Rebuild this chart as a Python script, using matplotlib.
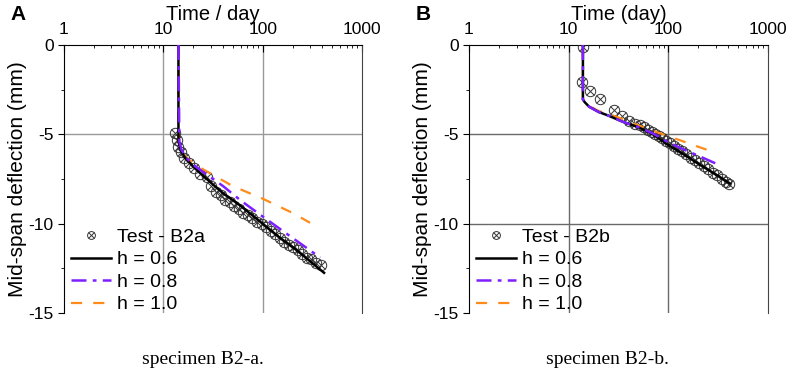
import numpy as np
import matplotlib
matplotlib.use("Agg")
import matplotlib.pyplot as plt
from matplotlib.ticker import FixedLocator, NullFormatter, LogLocator

plt.rcParams['font.family'] = ['Liberation Sans', 'DejaVu Sans']
plt.rcParams['axes.unicode_minus'] = False

# ---------------- panel A : specimen B2-a ----------------
a_test_t = [13.1, 13.6, 14.2, 15.0, 16.3, 18.0, 20.5, 23.5, 27.5, 30.5, 34, 38, 42, 47,
            52, 58, 64, 71, 79, 88, 98, 108, 120, 133, 148, 165, 183, 203, 225, 250,
            278, 310, 345, 390]
a_test_d = [-4.9, -5.3, -5.7, -6.0, -6.3, -6.6, -6.9, -7.2, -7.4, -7.9, -8.2, -8.4, -8.7, -8.8,
            -9.0, -9.2, -9.4, -9.5, -9.7, -9.9, -10.0, -10.2, -10.4, -10.6, -10.8, -11.0,
            -11.2, -11.3, -11.5, -11.7, -11.9, -12.0, -12.2, -12.3]
a_h06_t = [14.2, 14.2, 15, 16.5, 20, 25, 30, 40, 60, 100, 150, 200, 300, 415]
a_h06_d = [0, -5.4, -5.9, -6.3, -6.8, -7.3, -7.7, -8.3, -9.0, -10.0, -10.8, -11.3, -12.1, -12.75]
a_h08_t = [14.2, 14.5, 15.2, 17, 20, 25, 30, 40, 60, 100, 200, 380]
a_h08_d = [0, -5.4, -5.85, -6.3, -6.7, -7.1, -7.4, -7.9, -8.7, -9.6, -10.8, -11.9]
a_h10_t = [14.2, 14.2, 15, 17, 20, 25, 30, 50, 100, 200, 300]
a_h10_d = [0, -5.4, -5.9, -6.3, -6.6, -6.95, -7.2, -7.9, -8.6, -9.4, -9.95]

# ---------------- panel B : specimen B2-b ----------------
b_test_t = [13.9, 13.6, 16.4, 20.6, 28.4, 34, 40, 46, 52, 57, 62, 68, 74, 80, 87, 95,
            104, 114, 125, 138, 152, 168, 185, 205, 228, 252, 280, 310, 345, 380, 410]
b_test_d = [-0.1, -2.05, -2.6, -3.0, -3.65, -4.0, -4.25, -4.4, -4.5, -4.6, -4.75, -4.85,
            -5.0, -5.1, -5.2, -5.35, -5.5, -5.65, -5.8, -5.95, -6.1, -6.3, -6.45, -6.6,
            -6.8, -6.95, -7.15, -7.3, -7.5, -7.65, -7.8]
b_h06_t = [13.9, 13.9, 14.5, 16, 20, 25, 35, 50, 70, 100, 150, 200, 300, 415]
b_h06_d = [0, -3.05, -3.2, -3.45, -3.75, -3.95, -4.3, -4.6, -5.0, -5.6, -6.2, -6.65, -7.25, -7.75]
b_h08_t = [13.9, 13.9, 14.5, 16, 20, 25, 35, 50, 70, 100, 150, 200, 307]
b_h08_d = [0, -3.05, -3.2, -3.45, -3.75, -3.95, -4.3, -4.6, -4.95, -5.45, -5.9, -6.2, -6.66]
b_h10_t = [13.9, 13.9, 14.5, 16, 20, 25, 35, 50, 70, 100, 150, 200, 307]
b_h10_d = [0, -3.05, -3.15, -3.4, -3.7, -3.85, -4.15, -4.5, -4.8, -5.1, -5.45, -5.7, -6.05]

xticks = [1, 10, 100, 1000]
xticklabels = ['1', '10', '100', '1000']
yticks = [0, -5, -10, -15]

purple = '#7f1fff'
orange = '#ff8c1a'

fig = plt.figure(figsize=(7.89, 3.74), dpi=100)
axA = fig.add_axes([0.0811, 0.1631, 0.3777, 0.7166])
axB = fig.add_axes([0.5944, 0.1631, 0.3790, 0.7166])


def draw(ax, test_t, test_d, c6, c8, c10, label, xlabel, grid_col, hgrid):
    for v in [10, 100]:
        ax.axvline(v, color=grid_col, lw=1.0, zorder=0)
    for h in hgrid:
        ax.axhline(h, color=grid_col, lw=1.0, zorder=0)
    m1, = ax.plot(test_t, test_d, 'o', ms=7.5, mfc='none', mec='#333333', mew=0.7, zorder=3)
    m2, = ax.plot(test_t, test_d, 'x', ms=5.5, mec='#333333', mew=0.7, zorder=3)
    l10, = ax.plot(c10[0], c10[1], color=orange, lw=1.6, dashes=[5, 5], zorder=4)
    l6, = ax.plot(c6[0], c6[1], '-', color='black', lw=1.8, zorder=5)
    l8, = ax.plot(c8[0], c8[1], color=purple, lw=1.8, dashes=[6, 2.5, 1.5, 2.5], zorder=6)

    ax.set_xscale('log')
    ax.set_xlim(1, 1000)
    ax.set_ylim(-15, 0)
    ax.xaxis.set_major_locator(FixedLocator(xticks))
    ax.set_xticklabels(xticklabels)
    ax.xaxis.set_minor_locator(LogLocator(base=10, subs=np.arange(2, 10)))
    ax.xaxis.set_minor_formatter(NullFormatter())
    ax.xaxis.tick_top()
    ax.xaxis.set_label_position('top')
    ax.tick_params(axis='x', which='major', direction='in', length=5, labelsize=12.5, pad=6)
    ax.tick_params(axis='x', which='minor', direction='in', length=2.5)
    ax.set_yticks(yticks)
    ax.set_yticks([-2.5, -7.5, -12.5], minor=True)
    ax.tick_params(axis='y', which='major', direction='out', length=4, labelsize=12.5)
    ax.tick_params(axis='y', which='minor', direction='out', length=2)
    ax.spines['bottom'].set_visible(False)
    ax.spines['right'].set_color('#444444')
    ax.set_xlabel(xlabel, fontsize=14.5, labelpad=1)
    ax.set_ylabel('Mid-span deflection (mm)', fontsize=15, labelpad=1)

    ax.legend([(m1, m2), l6, l8, l10], [label, 'h = 0.6', 'h = 0.8', 'h = 1.0'],
              loc='lower left', bbox_to_anchor=(-0.015, -0.045), frameon=False,
              fontsize=14, handlelength=2.05, handletextpad=0.3, labelspacing=0.25,
              borderaxespad=0.2, markerscale=0.75)


draw(axA, a_test_t, a_test_d, (a_h06_t, a_h06_d), (a_h08_t, a_h08_d), (a_h10_t, a_h10_d),
     'Test - B2a', 'Time / day', '#9a9a9a', [-5])
draw(axB, b_test_t, b_test_d, (b_h06_t, b_h06_d), (b_h08_t, b_h08_d), (b_h10_t, b_h10_d),
     'Test - B2b', 'Time (day)', '#6a6a6a', [-5, -10])

fig.text(10 / 789, 1 - 15 / 374, 'A', fontsize=15, fontweight='bold', va='center')
fig.text(416 / 789, 1 - 15 / 374, 'B', fontsize=15, fontweight='bold', va='center')

fig.text(203 / 789, 1 - 360 / 374, 'specimen B2-a.', fontsize=14, ha='center', va='center',
         family=['Liberation Serif', 'DejaVu Serif'])
fig.text(607 / 789, 1 - 360 / 374, 'specimen B2-b.', fontsize=14, ha='center', va='center',
         family=['Liberation Serif', 'DejaVu Serif'])

fig.savefig('out.png', dpi=100)
